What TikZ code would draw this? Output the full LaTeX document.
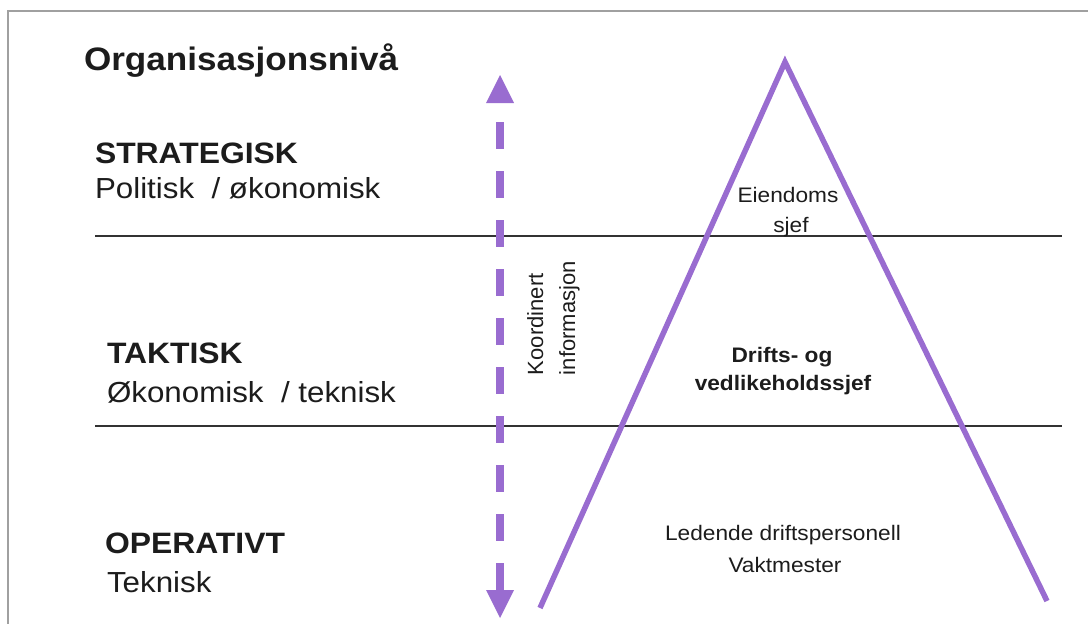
\documentclass[tikz,border=0pt]{standalone}
\usepackage{fontspec}
\setmainfont[FakeStretch=1.08]{Liberation Sans}
\newfontfamily\sidefont{Liberation Sans}
\usetikzlibrary{calc}

\definecolor{pyramid}{RGB}{153,108,208}
\definecolor{ink}{RGB}{28,28,28}
\definecolor{levelrulecol}{RGB}{50,50,50}
\definecolor{framecol}{RGB}{160,160,160}

\begin{document}
\begin{tikzpicture}[x=1pt,y=-1pt,
  every node/.style={inner sep=0pt, outer sep=0pt, text=ink},
  heading/.style={anchor=base west, font=\fontsize{32.5}{38}\selectfont\bfseries},
  levelhead/.style={anchor=base west, font=\fontsize{29.5}{34}\selectfont\bfseries},
  leveldesc/.style={anchor=base west, font=\fontsize{29}{34}\selectfont},
  role/.style={anchor=base, font=\fontsize{21}{25}\selectfont},
  rolebold/.style={anchor=base, font=\fontsize{21}{25}\selectfont\bfseries},
  sidetext/.style={anchor=base west, rotate=90, font=\sidefont\fontsize{22}{26}\selectfont},
  levelrule/.style={draw=levelrulecol, line width=1.6pt},
  pyramidline/.style={draw=pyramid, line width=5.5pt, line join=miter, miter limit=20},
  infoshaft/.style={draw=pyramid, line width=8pt, dash pattern=on 27pt off 22pt, dash phase=30pt},
  infohead/.style={fill=pyramid}
]
\useasboundingbox (0,0) rectangle (1088,624);

% page frame
\draw[framecol, line width=1.4pt] (8,624) -- (8,11) -- (1088,11);

% level separators
\coordinate (r1w) at (95,236);  \coordinate (r1e) at (1062,236);
\coordinate (r2w) at (95,426);  \coordinate (r2e) at (1062,426);
\draw[levelrule] (r1w) -- (r1e);
\draw[levelrule] (r2w) -- (r2e);

% left-hand level labels
\node[heading]   (title) at (84,70)  {Organisasjonsnivå};
\node[levelhead] (strat) at (95,163) {STRATEGISK};
\node[leveldesc] (stratd) at (95,198) {Politisk \ / økonomisk};
\node[levelhead] (takt) at (107,363) {TAKTISK};
\node[leveldesc] (taktd) at (107,402) {Økonomisk \ / teknisk};
\node[levelhead] (oper) at (105,553) {OPERATIVT};
\node[leveldesc] (operd) at (107,592) {Teknisk};

% two-way information arrow
\coordinate (infoTop) at (500,75);
\coordinate (infoBot) at (500,618);
\draw[infoshaft] ($(infoTop)+(0,28)$) -- ($(infoBot)-(0,28)$);
\fill[infohead] (infoTop) -- ++(-14,28) -- ++(28,0) -- cycle;
\fill[infohead] (infoBot) -- ++(-14,-28) -- ++(28,0) -- cycle;
\node[sidetext] (info1) at (543,375) {Koordinert};
\node[sidetext] (info2) at (575,375) {informasjon};

% pyramid
\coordinate (apex) at (785,62);
\coordinate (footL) at (540,608);
\coordinate (footR) at (1047,601);
\draw[pyramidline] (footL) -- (apex) -- (footR);

% roles inside the pyramid
\node[role] (ei1) at (788,202) {Eiendoms};
\node[role] (ei2) at (791,232) {sjef};
\node[rolebold] (dv1) at (782,362) {Drifts- og};
\node[rolebold] (dv2) at (783,390) {vedlikeholdssjef};
\node[role] (op1) at (783,540) {Ledende driftspersonell};
\node[role] (op2) at (785,572) {Vaktmester};
\end{tikzpicture}
\end{document}
